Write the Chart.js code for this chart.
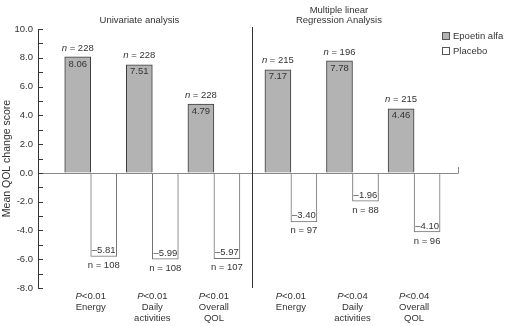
<!DOCTYPE html>
<html>
<head>
<meta charset="utf-8">
<script src="https://cdn.jsdelivr.net/npm/chart.js@4/dist/chart.umd.min.js"></script>
<style>
  html, body { margin: 0; padding: 0; background: #fff; }
  canvas { display: block; }
</style>
</head>
<body>
<canvas id="chart" width="508" height="326"></canvas>
<script>
// values
const categories = [['Energy'], ['Daily', 'activities'], ['Overall', 'QOL'], ['Energy'], ['Daily', 'activities'], ['Overall', 'QOL']];
const pValues = ['<0.01', '<0.01', '<0.01', '<0.01', '<0.04', '<0.04'];
const epoetin = [8.06, 7.51, 4.79, 7.17, 7.78, 4.46];
const placebo = [-5.81, -5.99, -5.97, -3.40, -1.96, -4.10];
const epoetinN = [228, 228, 228, 215, 196, 215];
const placeboN = [108, 108, 107, 97, 88, 96];
const panelTitles = [['Univariate analysis'], ['Multiple linear', 'Regression Analysis']];
const seriesNames = ['Epoetin alfa', 'Placebo'];
const yTicks = [-8, -6, -4, -2, 0, 2, 4, 6, 8, 10];

// group slots on the x scale, second panel pushed right a bit
const groupX = categories.map((c, i) => i + (i >= 3 ? 0.25 : 0));

const FONT = '"Liberation Sans", Arial, sans-serif';
const TEXT = '#333';
const EPO_FILL = '#b3b3b3';

function fmtVal(v) {
    return v < 0 ? '\u2013' + Math.abs(v).toFixed(2) : v.toFixed(2);
}

// draws "n = 228" with an italic n, centered
function drawN(ctx, n, cx, cy, italic) {
    const rest = ' = ' + n;
    ctx.font = (italic ? 'italic ' : '') + '9.5px ' + FONT;
    const w1 = ctx.measureText('n').width;
    ctx.font = '9.5px ' + FONT;
    const w2 = ctx.measureText(rest).width;
    let x = cx - (w1 + w2) / 2;
    ctx.textAlign = 'left';
    ctx.font = (italic ? 'italic ' : '') + '9.5px ' + FONT;
    ctx.fillText('n', x, cy);
    ctx.font = '9.5px ' + FONT;
    ctx.fillText(rest, x + w1, cy);
}

const extras = {
    id: 'extras',
    afterDatasetsDraw(chart) {
        const ctx = chart.ctx;
        const xs = chart.scales.x;
        const ys = chart.scales.y;
        const area = chart.chartArea;
        const y0 = ys.getPixelForValue(0);
        ctx.save();

        // zero line
        ctx.strokeStyle = '#8a8a8a';
        ctx.lineWidth = 1;
        ctx.beginPath();
        ctx.moveTo(area.left, Math.round(y0) + 0.5);
        ctx.lineTo(area.right, Math.round(y0) + 0.5);
        ctx.moveTo(Math.round(area.right) + 0.5, Math.round(y0) - 6);
        ctx.lineTo(Math.round(area.right) + 0.5, Math.round(y0) + 0.5);
        ctx.stroke();

        // y ticks pointing inward
        ctx.strokeStyle = '#333';
        ctx.beginPath();
        for (let v = ys.min; v <= ys.max; v++) {
            const py = Math.round(ys.getPixelForValue(v)) + 0.5;
            ctx.moveTo(area.left, py);
            ctx.lineTo(area.left + 5, py);
        }
        ctx.stroke();

        // divider between the two analyses
        const dx = Math.round(xs.getPixelForValue(2.62)) + 0.5;
        ctx.beginPath();
        ctx.moveTo(dx, area.top - 2);
        ctx.lineTo(dx, area.bottom);
        ctx.stroke();

        ctx.fillStyle = TEXT;
        ctx.textBaseline = 'middle';

        // bar value labels and n labels
        const epoMeta = chart.getDatasetMeta(0);
        const plaMeta = chart.getDatasetMeta(1);
        epoMeta.data.forEach((bar, i) => {
            ctx.font = '9.5px ' + FONT;
            ctx.textAlign = 'center';
            ctx.fillText(fmtVal(epoetin[i]), bar.x, bar.y + 7);
            drawN(ctx, epoetinN[i], bar.x, bar.y - 9, true);
        });
        plaMeta.data.forEach((bar, i) => {
            ctx.font = '9.5px ' + FONT;
            ctx.textAlign = 'center';
            ctx.fillText(fmtVal(placebo[i]), bar.x, bar.y - 6);
            drawN(ctx, placeboN[i], bar.x, bar.y + 9, false);
        });

        // category labels under the plot
        groupX.forEach((gx, i) => {
            const cx = xs.getPixelForValue(gx);
            ctx.font = 'italic 9.5px ' + FONT;
            const wp = ctx.measureText('P').width;
            ctx.font = '9.5px ' + FONT;
            const wr = ctx.measureText(pValues[i]).width;
            const sx = cx - (wp + wr) / 2;
            ctx.textAlign = 'left';
            ctx.font = 'italic 9.5px ' + FONT;
            ctx.fillText('P', sx, 296);
            ctx.font = '9.5px ' + FONT;
            ctx.fillText(pValues[i], sx + wp, 296);
            ctx.textAlign = 'center';
            categories[i].forEach((line, j) => {
                ctx.fillText(line, cx, 307 + j * 11);
            });
        });

        // panel titles
        ctx.font = '9.5px ' + FONT;
        ctx.textAlign = 'center';
        const t1 = xs.getPixelForValue(0.79);
        ctx.fillText(panelTitles[0][0], t1, 20);
        const t2 = xs.getPixelForValue(4.03);
        panelTitles[1].forEach((line, j) => {
            ctx.fillText(line, t2, 10 + j * 10.5);
        });

        // y axis title
        ctx.save();
        ctx.font = '10.5px ' + FONT;
        ctx.translate(7, (area.top + area.bottom) / 2);
        ctx.rotate(-Math.PI / 2);
        ctx.fillText('Mean QOL change score', 0, 0);
        ctx.restore();

        // legend
        const fills = [EPO_FILL, '#ffffff'];
        const strokes = ['#555', '#555'];
        seriesNames.forEach((name, i) => {
            const ly = 36 + i * 15;
            ctx.fillStyle = fills[i];
            ctx.fillRect(442, ly - 4, 8, 8);
            ctx.strokeStyle = strokes[i];
            ctx.strokeRect(442.5, ly - 3.5, 7, 7);
            ctx.fillStyle = TEXT;
            ctx.textAlign = 'left';
            ctx.font = '9.5px ' + FONT;
            ctx.fillText(name, 453, ly);
        });

        ctx.restore();
    }
};

new Chart(document.getElementById('chart'), {
    type: 'bar',
    data: {
        datasets: [{
            label: seriesNames[0],
            data: epoetin.map((v, i) => ({ x: groupX[i], y: v })),
            backgroundColor: EPO_FILL,
            borderColor: '#3c3c3c',
            borderWidth: 1,
            barThickness: 26
        }, {
            label: seriesNames[1],
            data: placebo.map((v, i) => ({ x: groupX[i], y: v })),
            backgroundColor: '#ffffff',
            borderColor: '#707070',
            borderWidth: 1,
            barThickness: 26
        }]
    },
    options: {
        responsive: false,
        animation: false,
        devicePixelRatio: 1,
        layout: { padding: { left: 0, top: 29, right: 50, bottom: 38 } },
        plugins: { legend: { display: false }, tooltip: { enabled: false } },
        scales: {
            x: {
                type: 'linear',
                display: false,
                offset: false,
                min: -0.856,
                max: 5.963
            },
            y: {
                min: yTicks[0],
                max: yTicks[yTicks.length - 1],
                afterBuildTicks: scale => {
                    scale.ticks = yTicks.map(v => ({ value: v }));
                },
                ticks: {
                    padding: 5,
                    color: TEXT,
                    font: { family: FONT, size: 9.5 },
                    callback: v => v.toFixed(1)
                },
                grid: { drawOnChartArea: false, drawTicks: false },
                border: { color: '#333' },
                afterFit: scale => { scale.width = 38; }
            }
        }
    },
    plugins: [extras]
});
</script>
</body>
</html>
